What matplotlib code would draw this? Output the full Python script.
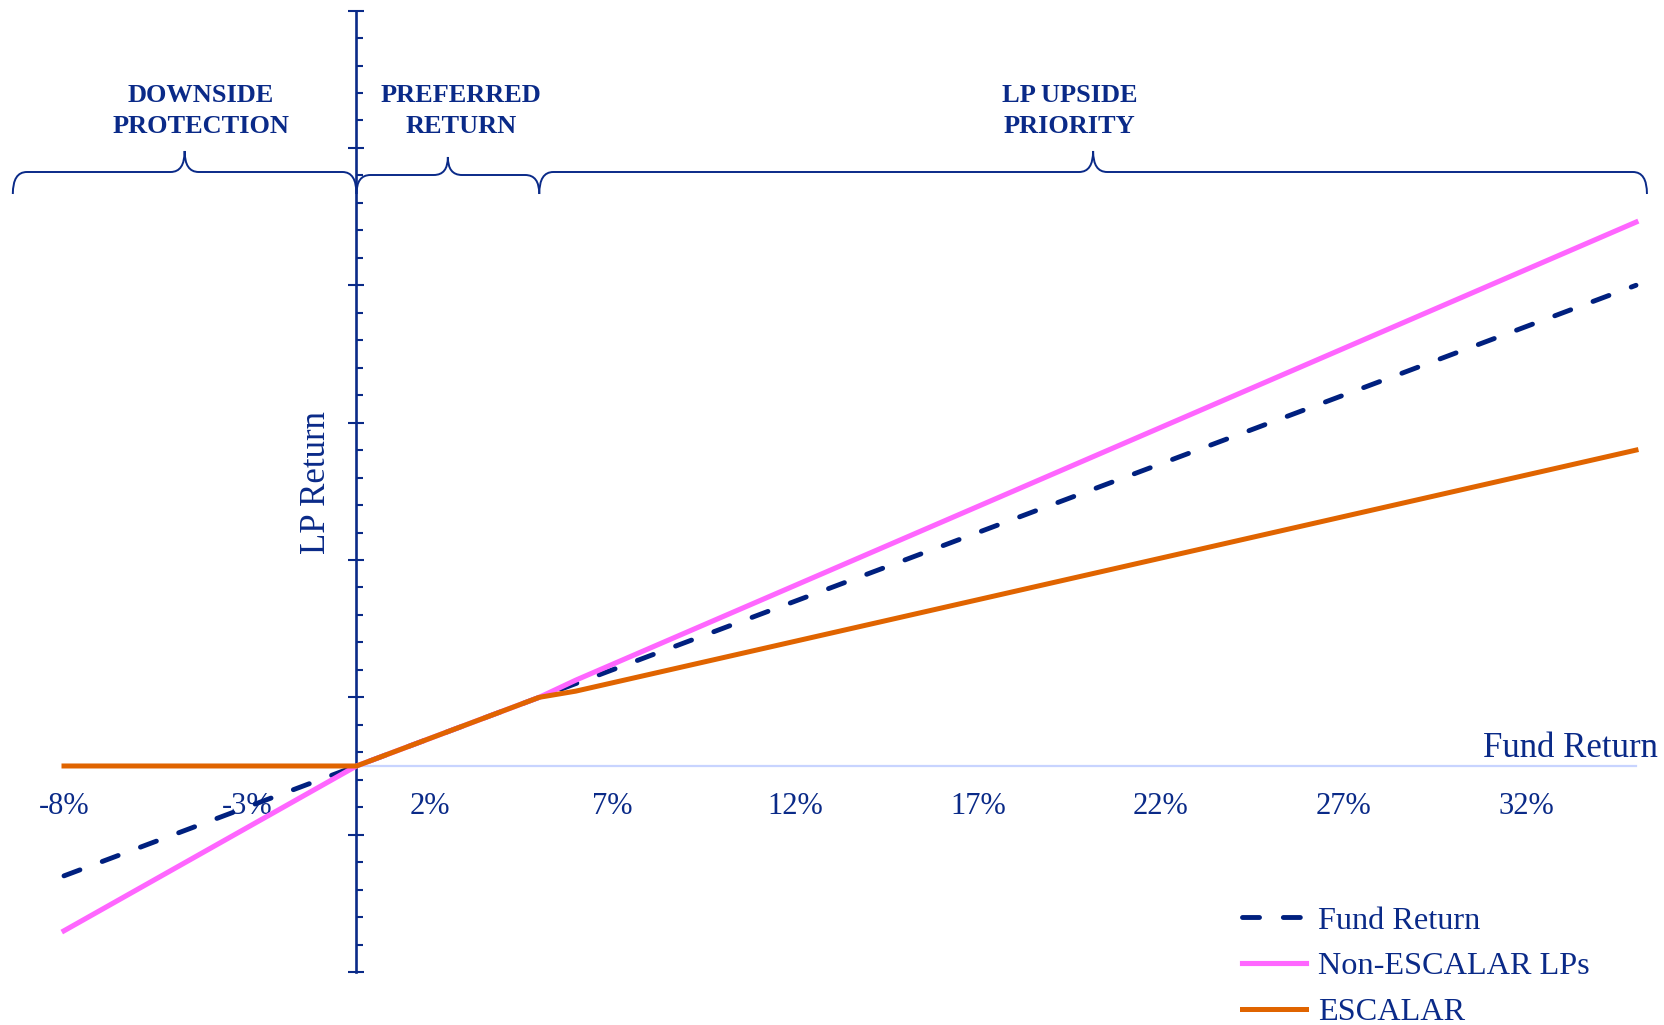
import matplotlib
matplotlib.use("Agg")
import matplotlib.pyplot as plt
from matplotlib.path import Path
from matplotlib.patches import PathPatch
from matplotlib.ticker import FixedLocator, MultipleLocator, FixedFormatter

# fund return (x) and LP returns, in %
fund_x = [-8, 0, 5, 6, 35]
fund_return = [-8, 0, 5, 6, 35]
non_escalar = [-12, 0, 5, 6.25, 39.6]
escalar = [0, 0, 5, 5.45, 23]

x_ticks = [-8, -3, 2, 7, 12, 17, 22, 27, 32]
x_labels = ["-8%", "-3%", "2%", "7%", "12%", "17%", "22%", "27%", "32%"]

regions = ["DOWNSIDE\nPROTECTION", "PREFERRED\nRETURN", "LP UPSIDE\nPRIORITY"]
region_edges = [-9.4, 0, 5, 35.3]
region_label_x = [-4.26, 2.87, 19.5]

NAVY = "#0a2a88"
W, H = 1665, 1025

plt.rcParams['font.family'] = ['Liberation Serif', 'DejaVu Serif']

fig = plt.figure(figsize=(W / 100, H / 100), dpi=100)
ax = fig.add_axes([64 / W, 53 / H, (1636 - 64) / W, (1014.4 - 53) / H])
ax.set_xlim(-8, 35)
ax.set_ylim(-15, 55)
ax.patch.set_visible(False)

ax.plot(fund_x, fund_return, color="#00207f", lw=3.5, ls=(0, (3.5, 4.9)),
        dash_capstyle='round', clip_on=False, zorder=3, label="Fund Return")
ax.plot(fund_x, non_escalar, color="#ff66ff", lw=3.7, clip_on=False,
        zorder=3, label="Non-ESCALAR LPs")
ax.plot(fund_x, escalar, color="#e06400", lw=3.6, clip_on=False,
        zorder=3, label="ESCALAR")

# axes: y axis through 0, x axis as a pale line at 0
for s in ["top", "right"]:
    ax.spines[s].set_visible(False)
ax.spines["left"].set_position(("data", 0))
ax.spines["left"].set_color(NAVY)
ax.spines["left"].set_linewidth(1.9)
ax.spines["bottom"].set_position(("data", 0))
ax.spines["bottom"].set_color("#c8d4ff")
ax.spines["bottom"].set_linewidth(1.6)

ax.yaxis.set_major_locator(MultipleLocator(10, offset=5))
ax.yaxis.set_minor_locator(MultipleLocator(2, offset=1))
ax.tick_params(axis="y", which="major", direction="inout", length=11.5,
               width=1.5, color=NAVY, labelleft=False)
ax.tick_params(axis="y", which="minor", direction="in", length=5,
               width=1.5, color=NAVY)

ax.xaxis.set_major_locator(FixedLocator(x_ticks))
ax.xaxis.set_major_formatter(FixedFormatter(x_labels))
ax.tick_params(axis="x", length=0, pad=19, labelsize=22, labelcolor=NAVY)

fig.text(317 / W, 1 - 483 / H, "LP Return", rotation=90, ha="center",
         va="center", fontsize=25, color=NAVY)
fig.text(1658 / W, 1 - 757 / H, "Fund Return", ha="right", va="baseline",
         fontsize=25, color=NAVY)


# curly braces over the regions, drawn in pixel space
def brace(x0, x1, base, tip, end, r_end=14, r_mid=14):
    xc = (x0 + x1) / 2
    verts = [(x0, end), (x0, base), (x0 + r_end, base),
             (xc - r_mid, base),
             (xc, base), (xc, tip),
             (xc, base), (xc + r_mid, base),
             (x1 - r_end, base),
             (x1, base), (x1, end)]
    codes = [Path.MOVETO, Path.CURVE3, Path.CURVE3,
             Path.LINETO,
             Path.CURVE3, Path.CURVE3,
             Path.CURVE3, Path.CURVE3,
             Path.LINETO,
             Path.CURVE3, Path.CURVE3]
    verts = [(vx, H - vy) for vx, vy in verts]
    fig.patches.append(PathPatch(Path(verts, codes), fill=False, ec=NAVY,
                                 lw=1.4, transform=None))


fig.canvas.draw()
for i, name in enumerate(regions):
    px0 = ax.transData.transform((region_edges[i], 0))[0]
    px1 = ax.transData.transform((region_edges[i + 1], 0))[0]
    base = 175 if i == 1 else 172
    tip = 157 if i == 1 else 151
    brace(px0, px1, base, tip, 194)
    lx = ax.transData.transform((region_label_x[i], 0))[0]
    for j, line in enumerate(name.split("\n")):
        fig.text(lx / W, 1 - (102 + 31 * j) / H, line, ha="center",
                 va="baseline", fontsize=19, fontweight="bold", color=NAVY)

ax.legend(loc="upper left", bbox_to_anchor=(1242 / W, 1 - 906 / H),
          bbox_transform=fig.transFigure, frameon=False, fontsize=23.2,
          handlelength=2.0, handletextpad=0.35, labelspacing=0.5,
          borderpad=0, borderaxespad=0, labelcolor=NAVY)

fig.savefig("out.png", dpi=100)
